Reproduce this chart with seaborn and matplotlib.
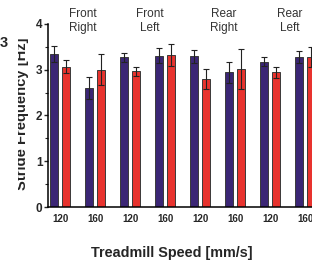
import matplotlib
matplotlib.use("Agg")
import matplotlib.pyplot as plt
from matplotlib.ticker import MultipleLocator
from matplotlib.transforms import Bbox
import pandas as pd
import seaborn as sns

# values
legs = ["Front Right", "Front Left", "Rear Right", "Rear Left"]
speeds = ["120", "160"]
groups = ["Group 1", "Group 2"]
group1_mean = [3.34, 2.61, 3.27, 3.31, 3.29, 2.94, 3.18, 3.28]
group1_sem = [0.18, 0.24, 0.10, 0.16, 0.14, 0.22, 0.09, 0.13]
group2_mean = [3.07, 3.00, 2.97, 3.32, 2.80, 3.02, 2.94, 3.28]
group2_sem = [0.14, 0.34, 0.10, 0.24, 0.21, 0.43, 0.11, 0.21]

conditions = [f"{leg} {s}" for leg in legs for s in speeds]
speed_labels = [s for leg in legs for s in speeds]

df = pd.DataFrame({
    "condition": conditions * 2,
    "freq": group1_mean + group2_mean,
    "group": [groups[0]] * len(conditions) + [groups[1]] * len(conditions),
})

sns.set_style("ticks")
plt.rcParams["font.family"] = ["Liberation Sans", "DejaVu Sans"]

fig = plt.figure(figsize=(3.12, 2.64), dpi=100)
ax = fig.add_axes([48 / 312, 57 / 264, 274.5 / 312, 183 / 264])

sns.barplot(data=df, x="condition", y="freq", hue="group", order=conditions,
            hue_order=groups, palette=["#3b2675", "#e8332e"], saturation=1,
            width=0.686, gap=0.33, edgecolor="#3a3a3a", linewidth=0.7,
            errorbar=None, legend=False, ax=ax)

# SEM error bars on top of each bar
for container, sems in zip(ax.containers, [group1_sem, group2_sem]):
    xs = [b.get_x() + b.get_width() / 2 for b in container]
    hs = [b.get_height() for b in container]
    ax.errorbar(xs, hs, yerr=sems, fmt="none", ecolor="#222222",
                elinewidth=0.8, capsize=2.4, capthick=0.8, zorder=5)

ax.set_xlim(-0.343, 7.5)
ax.set_ylim(0, 4)
ax.yaxis.set_major_locator(MultipleLocator(1))
ax.yaxis.set_minor_locator(MultipleLocator(0.5))
ax.set_xticks(range(len(conditions)), speed_labels)
ax.tick_params(axis="x", length=0, pad=5, labelsize=7)
ax.tick_params(axis="y", which="major", length=3, width=1, pad=1, labelsize=8.5)
ax.tick_params(axis="y", which="minor", length=2, width=0.8)
for lab in ax.get_xticklabels() + ax.get_yticklabels():
    lab.set_fontweight("bold")

sns.despine(ax=ax)
for side in ["left", "bottom"]:
    ax.spines[side].set_linewidth(1.1)
    ax.spines[side].set_color("black")

# leg names above each pair of speeds
title_x = [0.65, 2.57, 4.67, 6.57]
for x, leg in zip(title_x, legs):
    ax.text(x, 1.016, leg.replace(" ", "\n"), transform=ax.get_xaxis_transform(),
            ha="center", va="center", fontsize=8.5, color="#333333",
            linespacing=1.15)

ax.set_xlabel("Treadmill Speed [mm/s]", fontsize=10.4, fontweight="bold")
ax.xaxis.label.set_va("center")
ax.xaxis.set_label_coords(0.452, -0.252)

ax.set_ylabel("Stride Frequency [Hz]", fontsize=10.6, fontweight="bold")
ax.yaxis.set_label_coords(-0.068, 0.511)
# the original figure is cropped through the y label (display pixels)
ax.yaxis.label.set_clip_box(Bbox.from_extents(18, 0, 312, 264))
ax.yaxis.label.set_clip_on(True)

fig.text(8 / 312, 1 - 43 / 264, "3", ha="right", va="center",
         fontsize=10.5, fontweight="bold")

fig.savefig("out.png", dpi=100)
plt.close(fig)
